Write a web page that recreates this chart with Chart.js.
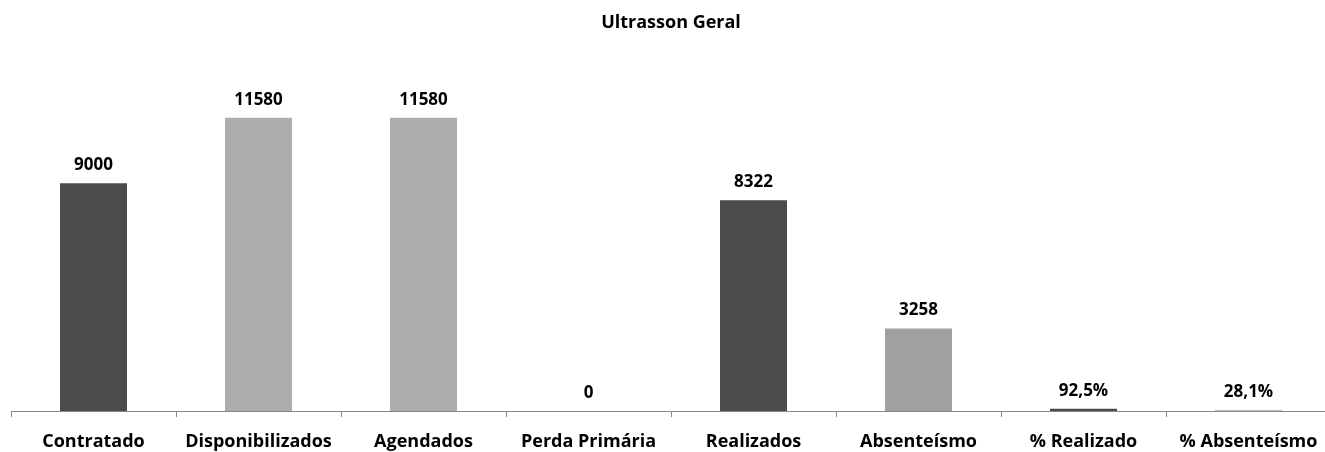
<!DOCTYPE html>
<html>
<head>
<meta charset="utf-8">
<script src="https://cdn.jsdelivr.net/npm/chart.js@4/dist/chart.umd.min.js"></script>
<style>
  html, body { margin: 0; padding: 0; background: #fff; overflow: hidden; }
  #wrap { width: 1345px; height: 452px; }
</style>
</head>
<body>
<div id="wrap"><canvas id="grafico"></canvas></div>
<script>
const categorias = ['Contratado', 'Disponibilizados', 'Agendados', 'Perda Primária', 'Realizados', 'Absenteísmo', '% Realizado', '% Absenteísmo'];
const valores = [9000, 11580, 11580, 0, 8322, 3258, 92.5, 28.1];
const ehPercentual = [false, false, false, false, false, false, true, true];
const cores = ['#4b4b4b', '#adadad', '#adadad', '#adadad', '#4b4b4b', '#a0a0a0', '#4b4b4b', '#a0a0a0'];

const fonte = '"Open Sans", Lato, sans-serif';

function formatar(v, i) {
  if (ehPercentual[i]) return v.toFixed(1).replace('.', ',') + '%';
  return String(v);
}

// rotulos de valor em cima de cada barra
const rotulos = {
  id: 'rotulos',
  afterDatasetsDraw(chart) {
    const ctx = chart.ctx;
    const meta = chart.getDatasetMeta(0);
    ctx.save();
    ctx.font = 'bold 17px ' + fonte;
    ctx.fillStyle = '#000';
    ctx.textAlign = 'center';
    ctx.textBaseline = 'middle';
    meta.data.forEach((bar, i) => {
      ctx.fillText(formatar(valores[i], i), bar.x, bar.y - 18);
    });
    ctx.restore();
  }
};

new Chart(document.getElementById('grafico'), {
  type: 'bar',
  data: {
    labels: categorias,
    datasets: [{
      data: valores,
      backgroundColor: cores,
      categoryPercentage: 1,
      barPercentage: 0.406
    }]
  },
  options: {
    responsive: true,
    maintainAspectRatio: false,
    animation: false,
    layout: { padding: { left: 11, right: 14, top: 0, bottom: 0 } },
    plugins: {
      legend: { display: false },
      tooltip: { enabled: false },
      title: {
        display: true,
        text: 'Ultrasson Geral',
        color: '#000',
        font: { family: fonte, size: 18, weight: 'bold' },
        padding: { top: 12, bottom: 23 }
      }
    },
    scales: {
      x: {
        grid: { drawOnChartArea: false, offset: true, tickLength: 6, color: '#888' },
        border: { color: '#888' },
        ticks: { color: '#000', padding: 14, maxRotation: 0, font: { family: fonte, size: 18, weight: 'bold' } },
        afterFit(scale) {
          scale.height = 41;
          scale.paddingLeft = 0;
          scale.paddingRight = 0;
        }
      },
      y: {
        display: false,
        min: 0,
        max: 14000
      }
    }
  },
  plugins: [rotulos]
});
</script>
</body>
</html>
